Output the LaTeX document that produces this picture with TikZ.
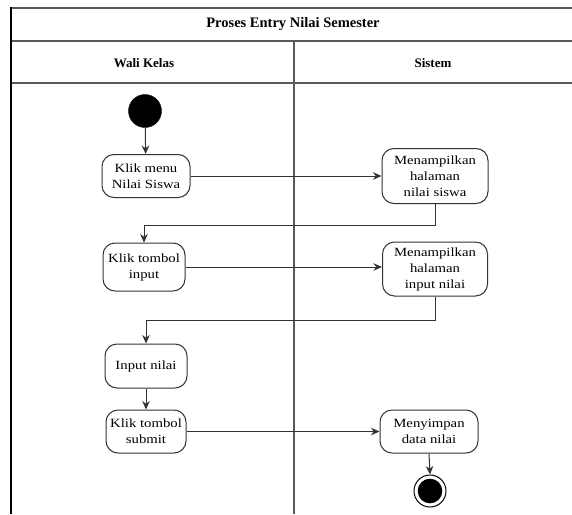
\documentclass[tikz,border=0pt]{standalone}
\usepackage{fontspec}
\setmainfont{Liberation Serif}
\newfontfamily\actfont[FakeStretch=1.18]{Liberation Serif}
\usetikzlibrary{arrows.meta}
\begin{document}
\begin{tikzpicture}[x=1pt,y=-1pt,
  frameline/.style={draw=black!65,line width=1.2pt},
  act/.style={draw=black!80,line width=1pt,rounded corners=12pt,fill=white,
    align=center,inner sep=0pt,font=\actfont\fontsize{12.5}{16}\selectfont},
  flow/.style={draw=black!80,line width=1pt,-{Stealth[length=8.5pt,width=7.5pt]}},
  lanehead/.style={font=\fontsize{13}{15}\selectfont\bfseries},
]
\useasboundingbox (0,0) rectangle (572,514);
\fill[white] (0,0) rectangle (572,514);

% swimlane frame
\draw[frameline] (11,8) -- (572,8);
\draw[frameline] (11,41) -- (572,41);
\draw[frameline] (11,83) -- (572,83);
\draw[frameline] (294,41) -- (294,514);
\draw[black,line width=1.8pt] (11,7.4) -- (11,514);

% titles
\node[font=\fontsize{14.5}{17}\selectfont\bfseries] (title) at (293,24.5) {Proses Entry Nilai Semester};
\node[lanehead] (laneA) at (144,63) {Wali Kelas};
\node[lanehead] (laneB) at (433,63) {Sistem};

% activities
\node[circle,fill=black,draw=black,minimum size=33pt,inner sep=0pt] (start) at (145,111) {};
\node[act,minimum width=88pt,minimum height=43pt] (n1) at (146,176) {Klik menu\\Nilai Siswa};
\node[act,minimum width=106pt,minimum height=55pt] (n2) at (435,176) {Menampilkan\\halaman\\nilai siswa};
\node[act,minimum width=82pt,minimum height=48pt] (n3) at (144,267) {Klik tombol\\input};
\node[act,minimum width=105pt,minimum height=54pt] (n4) at (435,269) {Menampilkan\\halaman\\input nilai};
\node[act,minimum width=82pt,minimum height=44pt] (n5) at (146,366) {Input nilai};
\node[act,minimum width=80pt,minimum height=43pt] (n6) at (146,431.5) {Klik tombol\\submit};
\node[act,minimum width=98pt,minimum height=43pt] (n7) at (429,431.5) {Menyimpan\\data nilai};
\node[circle,draw=black,line width=1pt,minimum size=32pt,inner sep=0pt] (stop) at (430,491) {};
\fill[black] (stop.center) circle (12.3pt);

% bends of the return flows
\coordinate (j1) at (0,225);
\coordinate (j2) at (0,320);

% flows
\draw[flow] (start) -- (n1);
\draw[flow] (n1) -- (n2);
\draw[flow] (n2.south) -- (n2.south |- j1) -| (n3.north);
\draw[flow] (n3.east) -- (n4.west |- n3.east);
\draw[flow] (n4.south) -- (n4.south |- j2) -| (n5.north);
\draw[flow] (n5) -- (n6);
\draw[flow] (n6) -- (n7);
\draw[flow] (n7.south) -- (stop.north);
\end{tikzpicture}
\end{document}
